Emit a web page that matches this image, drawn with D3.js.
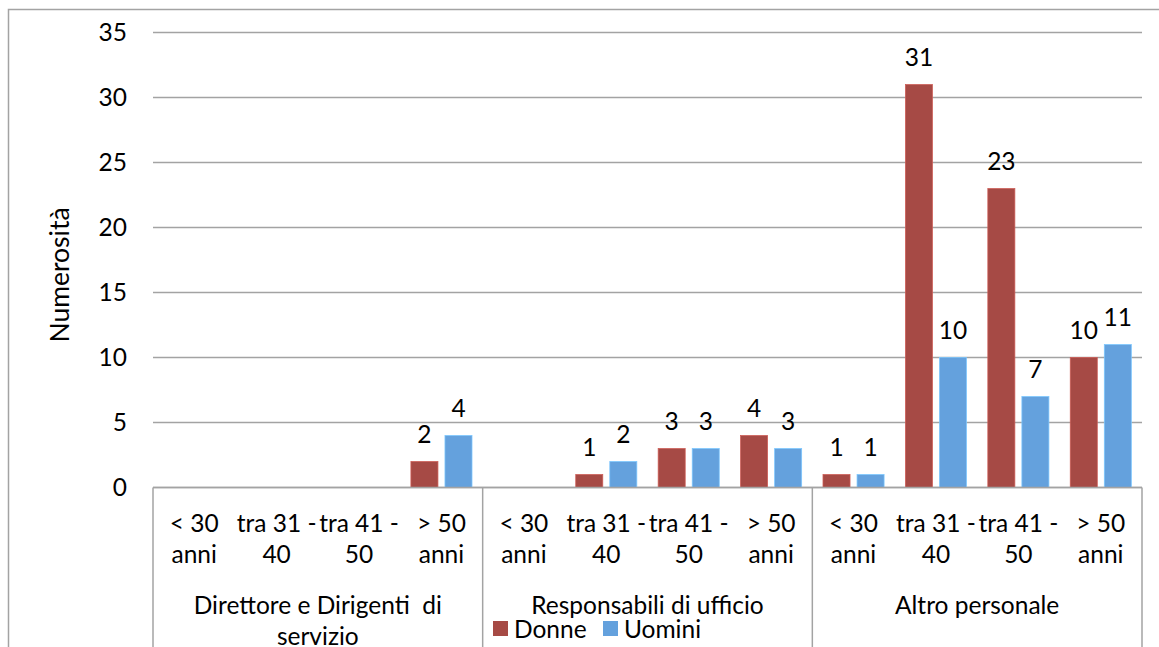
<!DOCTYPE html>
<html>
<head>
<meta charset="utf-8">
<script src="https://cdn.jsdelivr.net/npm/d3@7"></script>
<style>
  body { margin: 0; background: #fff; }
  svg text { font-family: Lato, "Open Sans", sans-serif; fill: #000; }
</style>
</head>
<body>
<div id="chart"></div>
<script>
// data
const groups = ["Direttore e Dirigenti  di|servizio", "Responsabili di ufficio", "Altro personale"];
const ages = ["< 30|anni", "tra 31 -|40", "tra 41 -|50", "> 50|anni"];
const seriesNames = ["Donne", "Uomini"];
const donne = [0, 0, 0, 2, 0, 1, 3, 4, 1, 31, 23, 10];
const uomini = [0, 0, 0, 4, 0, 2, 3, 3, 1, 10, 7, 11];
const yTicks = [0, 5, 10, 15, 20, 25, 30, 35];

const width = 1159, height = 647;
const colors = { Donne: "#A64A45", Uomini: "#64A1DD" };
const gridColor = "#A3A3A3";
const fs = "24.5px";

const plot = { left: 153, right: 1142, top: 32.5, bottom: 487.5 };

const svg = d3.select("#chart").append("svg")
  .attr("width", width).attr("height", height);

// outer chart frame
svg.append("rect")
  .attr("x", 8.5).attr("y", 9.5)
  .attr("width", width + 20).attr("height", height + 20)
  .attr("fill", "none").attr("stroke", gridColor).attr("stroke-width", 1.5);

const cats = [];
groups.forEach((g, gi) => ages.forEach((a, ai) => cats.push({ key: gi + "-" + ai, group: gi, age: a })));
const rows = cats.map((c, i) => ({ ...c, Donne: donne[i], Uomini: uomini[i] }));

const x = d3.scaleBand().domain(cats.map(c => c.key)).range([plot.left, plot.right]).padding(0);
const xs = d3.scaleBand().domain(seriesNames).range([0, x.bandwidth()])
  .paddingInner(0.206).paddingOuter(0.313);
const y = d3.scaleLinear().domain([0, 35]).range([plot.bottom, plot.top]);

// gridlines + y labels
svg.append("g").selectAll("line").data(yTicks).join("line")
  .attr("x1", plot.left).attr("x2", plot.right)
  .attr("y1", d => y(d)).attr("y2", d => y(d))
  .attr("stroke", gridColor).attr("stroke-width", 1.5);

svg.append("g").selectAll("text").data(yTicks).join("text")
  .attr("x", 127).attr("y", d => y(d) + 8.5)
  .attr("text-anchor", "end")
  .style("font-size", fs)
  .text(d => d);

svg.append("text")
  .attr("transform", "translate(69,275) rotate(-90)")
  .attr("text-anchor", "middle")
  .style("font-size", "26.5px")
  .text("Numerosità");

// bars
const bars = svg.append("g").selectAll("g").data(rows).join("g")
  .attr("transform", d => `translate(${x(d.key)},0)`);

seriesNames.forEach(s => {
  const r = bars.filter(d => d[s] > 0);
  r.append("rect")
    .attr("x", xs(s)).attr("width", xs.bandwidth())
    .attr("y", d => y(d[s])).attr("height", d => y(0) - y(d[s]))
    .attr("fill", colors[s])
    .attr("stroke", d3.color(colors[s]).brighter(0.6))
    .attr("stroke-width", 0.75);
  r.append("text")
    .attr("x", xs(s) + xs.bandwidth() / 2)
    .attr("y", d => y(d[s]) - 19)
    .attr("text-anchor", "middle")
    .style("font-size", fs)
    .text(d => d[s]);
});

// category axis box lines
const axisG = svg.append("g");
axisG.append("line")
  .attr("x1", plot.left).attr("x2", plot.right)
  .attr("y1", plot.bottom).attr("y2", plot.bottom)
  .attr("stroke", gridColor).attr("stroke-width", 1.5);

const dividers = d3.range(groups.length + 1).map(i => x.range()[0] + i * x.step() * ages.length);
axisG.selectAll(".div").data(dividers).join("line")
  .attr("class", "div")
  .attr("x1", d => d).attr("x2", d => d)
  .attr("y1", plot.bottom).attr("y2", height)
  .attr("stroke", gridColor).attr("stroke-width", 1.5);

// age labels (two lines)
const ageText = axisG.selectAll(".age").data(rows).join("text")
  .attr("class", "age")
  .attr("text-anchor", "middle")
  .style("font-size", fs);
ageText.each(function (d) {
  const cx = x(d.key) + x.bandwidth() / 2;
  d.age.split("|").forEach((line, li) => {
    d3.select(this).append("tspan")
      .attr("x", cx).attr("y", 532 + li * 31)
      .text(line);
  });
});

// group labels
axisG.selectAll(".grp").data(groups).join("text")
  .attr("class", "grp")
  .attr("text-anchor", "middle")
  .style("font-size", fs)
  .style("white-space", "pre")
  .each(function (g, gi) {
    const cx = dividers[gi] + (dividers[gi + 1] - dividers[gi]) / 2;
    g.split("|").forEach((line, li) => {
      d3.select(this).append("tspan")
        .attr("x", cx).attr("y", 614 + li * 31)
        .text(line);
    });
  });

// legend
const legend = svg.append("g");
const legendX = [493, 603];
seriesNames.forEach((s, i) => {
  legend.append("rect")
    .attr("x", legendX[i]).attr("y", 621)
    .attr("width", 15).attr("height", 15)
    .attr("fill", colors[s]);
  legend.append("text")
    .attr("x", legendX[i] + 21).attr("y", 638)
    .style("font-size", fs)
    .text(s);
});
</script>
</body>
</html>
